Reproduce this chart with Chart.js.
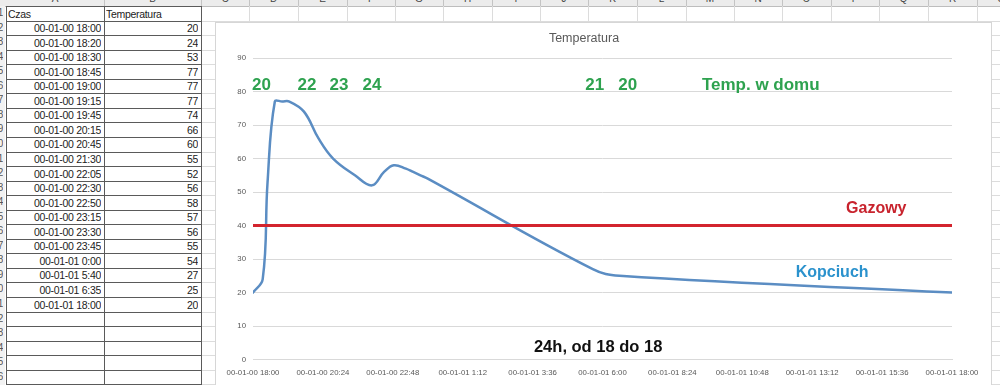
<!DOCTYPE html>
<html>
<head>
<meta charset="utf-8">
<script src="https://cdn.jsdelivr.net/npm/chart.js@4/dist/chart.umd.min.js"></script>
<style>
  html,body{margin:0;padding:0;}
  body{width:1000px;height:385px;overflow:hidden;background:#fff;position:relative;font-family:"Liberation Sans",Arial,sans-serif;}
  .ln{position:absolute;}
  .cell{position:absolute;font-size:10.5px;letter-spacing:-0.3px;color:#222;white-space:nowrap;overflow:hidden;}
  .hdr{position:absolute;font-size:10px;color:#444;text-align:center;}
  #chartBox{position:absolute;left:215px;top:22px;width:775px;height:363px;border:1px solid #d6d6d6;background:#fff;}
  #chartBox canvas{display:block;}
</style>
</head>
<body>
<div id="sheet"></div>
<div id="chartBox"><canvas id="c" width="775" height="363"></canvas></div>
<script>
// ---------- data ----------
const czas = ['00-01-00 18:00','00-01-00 18:20','00-01-00 18:30','00-01-00 18:45','00-01-00 19:00','00-01-00 19:15','00-01-00 19:45','00-01-00 20:15','00-01-00 20:45','00-01-00 21:30','00-01-00 22:05','00-01-00 22:30','00-01-00 22:50','00-01-00 23:15','00-01-00 23:30','00-01-00 23:45','00-01-01 0:00','00-01-01 5:40','00-01-01 6:35','00-01-01 18:00'];
const temperatura = [20,24,53,77,77,77,74,66,60,55,52,56,58,57,56,55,54,27,25,20];
const gazowy = [40,40];
const xTickLabels = ['00-01-00 18:00','00-01-00 20:24','00-01-00 22:48','00-01-01 1:12','00-01-01 3:36','00-01-01 6:00','00-01-01 8:24','00-01-01 10:48','00-01-01 13:12','00-01-01 15:36','00-01-01 18:00'];
const yTickValues = [0,10,20,30,40,50,60,70,80,90];
const headerCells = ['Czas','Temperatura'];
const colLetters = ['A','B','C','D','E','F','G','H','I','J','K','L','M','N','O','P','Q','R','S'];
const noteTexts = ['20','22','23','24','21','20','Temp. w domu','Gazowy','Kopciuch','24h, od 18 do 18'];

// minutes since 00-01-00 18:00
function toMinutes(s){
  const [d,t] = s.split(' ');
  const day = parseInt(d.split('-')[2],10);
  const [h,m] = t.split(':').map(Number);
  return day*1440 + h*60 + m - 18*60;
}
const kopciuchPts = czas.map((c,i)=>({x:toMinutes(c), y:temperatura[i]}));
const spanMin = toMinutes(czas[czas.length-1]);
const gazowyPts = gazowy.map((v,i)=>({x: i*spanMin, y:v}));

// ---------- spreadsheet background ----------
const sheet = document.getElementById('sheet');
const colEdges = [0,6,104,201,249,298,347,395,443,492,540,588,637,686,734,782,831,879,928,977,1025];
const rowTop = 6, rowH = 14.55, nRows = 27;
function addDiv(style, cls, text){
  const d = document.createElement('div');
  d.className = cls || 'ln';
  Object.assign(d.style, style);
  if (text !== undefined) d.textContent = text;
  sheet.appendChild(d);
  return d;
}
// header strip
addDiv({left:'0px',top:'0px',width:'1000px',height:'6px',background:'#ececec'});
addDiv({left:'0px',top:'6px',width:'1000px',height:'1px',background:'#bdbdbd'});
colLetters.forEach((L,i)=>{
  const x0 = colEdges[i+1], x1 = colEdges[i+2];
  addDiv({left:x0+'px',top:'-8px',width:(x1-x0)+'px',height:'13px',lineHeight:'13px'},'hdr',L);
  addDiv({left:x1+'px',top:'0px',width:'1px',height:'6px',background:'#c4c4c4'});
});
// row-number strip
addDiv({left:'0px',top:'6px',width:'5px',height:'380px',background:'#f2f2f2'});
for(let k=1;k<=nRows;k++){
  addDiv({left:'-21px',top:(rowTop+rowH*(k-1))+'px',width:'24px',height:rowH+'px',lineHeight:rowH+'px',fontSize:'10px',color:'#555',textAlign:'right'},'cell',String(k));
}
// light gridlines everywhere
for(let k=1;k<=nRows;k++){
  const y = Math.round(rowTop+rowH*k);
  addDiv({left:'201px',top:y+'px',width:'800px',height:'1px',background:'#dcdcdc'});
}
for(let i=3;i<colEdges.length;i++){
  addDiv({left:colEdges[i]+'px',top:'6px',width:'1px',height:'380px',background:'#dcdcdc'});
}
// table (columns A,B) dark borders
for(let k=0;k<=nRows;k++){
  const y = Math.round(rowTop+rowH*k);
  addDiv({left:'6px',top:y+'px',width:'196px',height:'1px',background:'#5a5a5a'});
}
[6,104,201].forEach(x=>addDiv({left:x+'px',top:'6px',width:'1px',height:'380px',background:'#5a5a5a'}));
// cell text
function cellText(row, col, text, align){
  const x0 = colEdges[col+1], x1 = colEdges[col+2];
  const top = rowTop + rowH*(row-1) + 1.5;
  addDiv({left:(x0+2)+'px',top:top+'px',width:(x1-x0-5)+'px',height:(rowH-1)+'px',lineHeight:(rowH-1)+'px',textAlign:align},'cell',text);
}
cellText(1,0,headerCells[0],'left');
cellText(1,1,headerCells[1],'left');
czas.forEach((c,i)=>{ cellText(i+2,0,c,'right'); cellText(i+2,1,String(temperatura[i]),'right'); });

// ---------- chart ----------
const FONT = '"Liberation Sans", Arial, sans-serif';
Chart.defaults.font.family = FONT;

const notesPlugin = {
  id: 'notes',
  afterDatasetsDraw(chart, args, opts){
    const {ctx, scales:{x, y}} = chart;
    ctx.save();
    ctx.textAlign = 'center';
    ctx.textBaseline = 'middle';
    opts.items.forEach(n=>{
      ctx.font = 'bold ' + n.size + 'px ' + FONT;
      ctx.fillStyle = n.color;
      ctx.fillText(noteTexts[n.t], x.getPixelForValue(n.x), y.getPixelForValue(n.y));
    });
    ctx.restore();
  }
};

const GREEN = '#2ea24f';
new Chart(document.getElementById('c'), {
  type: 'line',
  data: {
    datasets: [
      {label:'Gazowy', data: gazowyPts, borderColor:'#d3242e', borderWidth:3, pointRadius:0, tension:0, order:0},
      {label:'Kopciuch', data: kopciuchPts, borderColor:'#5b8dc3', borderWidth:2.5, pointRadius:0, tension:0.4, order:1,
       borderCapStyle:'round', borderJoinStyle:'round'}
    ]
  },
  options: {
    responsive:false,
    animation:false,
    devicePixelRatio:1,
    layout:{padding:{left:0, right:39, top:0, bottom:0}},
    plugins:{
      legend:{display:false},
      tooltip:{enabled:false},
      title:{display:true, text:'Temperatura', color:'#595959', font:{size:12.5, weight:'normal'}, padding:{top:8.5, bottom:11.5}},
      notes:{items:[
        {t:0, x:17.5, y:81.9, size:17, color:GREEN},
        {t:1, x:111,  y:81.9, size:17, color:GREEN},
        {t:2, x:177,  y:81.9, size:17, color:GREEN},
        {t:3, x:245,  y:81.9, size:17, color:GREEN},
        {t:4, x:704,  y:81.9, size:17, color:GREEN},
        {t:5, x:772,  y:81.9, size:17, color:GREEN},
        {t:6, x:1046, y:81.9, size:17, color:GREEN},
        {t:7, x:1284, y:45.0, size:16, color:'#c8232d'},
        {t:8, x:1193, y:26.0, size:16, color:'#2b92cd'},
        {t:9, x:711,  y:3.6,  size:16.5, color:'#111111'}
      ]}
    },
    scales:{
      x:{
        type:'linear', min:0, max:spanMin,
        grid:{display:false, drawTicks:false},
        border:{display:true, color:'#d9d9d9', width:1},
        ticks:{stepSize:spanMin/(xTickLabels.length-1), autoSkip:false, maxRotation:0, padding:8.5, color:'#595959', font:{size:7.8},
               callback:(v)=>xTickLabels[Math.round(v/(spanMin/(xTickLabels.length-1)))]}
      },
      y:{
        min:yTickValues[0], max:yTickValues[yTickValues.length-1],
        afterFit:(s)=>{ s.width = 37; },
        afterBuildTicks:(s)=>{ s.ticks = yTickValues.map(v=>({value:v})); },
        grid:{color:'#d9d9d9', lineWidth:1, drawTicks:false},
        border:{display:false},
        ticks:{padding:7, color:'#595959', font:{size:7.8}}
      }
    }
  },
  plugins:[notesPlugin]
});
</script>
</body>
</html>
